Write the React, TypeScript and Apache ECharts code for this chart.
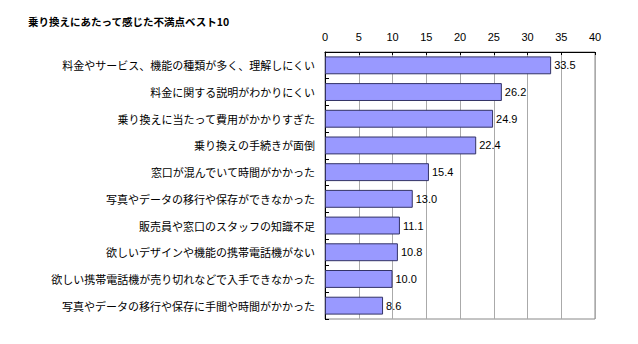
import React, { useEffect, useRef } from "react";
import * as echarts from "echarts";

const title = "乗り換えにあたって感じた不満点ベスト10";
const categories = [
  "料金やサービス、機能の種類が多く、理解しにくい",
  "料金に関する説明がわかりにくい",
  "乗り換えに当たって費用がかかりすぎた",
  "乗り換えの手続きが面倒",
  "窓口が混んでいて時間がかかった",
  "写真やデータの移行や保存ができなかった",
  "販売員や窓口のスタッフの知識不足",
  "欲しいデザインや機能の携帯電話機がない",
  "欲しい携帯電話機が売り切れなどで入手できなかった",
  "写真やデータの移行や保存に手間や時間がかかった",
];
const values = [33.5, 26.2, 24.9, 22.4, 15.4, 13.0, 11.1, 10.8, 10.0, 8.6];
const xMin = 0;
const xMax = 40;
const xStep = 5;

export default function App() {
  const ref = useRef<HTMLDivElement>(null);
  useEffect(() => {
    if (!ref.current) return;
    const chart = echarts.init(ref.current, undefined, { renderer: "svg" });
    const jp = "'Noto Sans CJK JP', sans-serif";
    const num = "'Liberation Sans', Arial, sans-serif";
    chart.setOption({
      animation: false,
      backgroundColor: "#ffffff",
      title: {
        text: title,
        left: 23,
        top: 11,
        textStyle: { fontFamily: jp, fontSize: 10.5, fontWeight: "bold", color: "#000" },
      },
      grid: {
        left: 325,
        right: 43,
        top: 52,
        bottom: 25,
        show: true,
        borderColor: "#888888",
        borderWidth: 1,
        backgroundColor: "#ffffff",
      },
      xAxis: {
        type: "value",
        position: "top",
        min: xMin,
        max: xMax,
        interval: xStep,
        axisLine: { show: true, lineStyle: { color: "#000", width: 1 } },
        axisTick: { show: true, inside: true, length: 3, lineStyle: { color: "#000" } },
        axisLabel: { fontFamily: num, fontSize: 11, color: "#000", margin: 10 },
        splitLine: { show: true, lineStyle: { color: "#aaaaaa", width: 1 } },
      },
      yAxis: {
        type: "category",
        inverse: true,
        data: categories,
        axisLine: { show: true, lineStyle: { color: "#000", width: 1 } },
        axisTick: { show: true, inside: true, length: 4, lineStyle: { color: "#000" } },
        axisLabel: { fontFamily: jp, fontSize: 11, color: "#000", margin: 10 },
        splitLine: { show: false },
      },
      series: [
        {
          type: "bar",
          data: values,
          barCategoryGap: "33%",
          itemStyle: { color: "#9999ff", borderColor: "#333366", borderWidth: 1 },
          label: {
            show: true,
            position: "right",
            distance: 3,
            fontFamily: num,
            fontSize: 11,
            color: "#000",
            formatter: (p: any) => Number(p.value).toFixed(1),
          },
        },
      ],
    });
    return () => chart.dispose();
  }, []);
  return (
    <div
      ref={ref}
      style={{ position: "fixed", left: 0, top: 0, width: 638, height: 344, background: "#fff" }}
    />
  );
}
